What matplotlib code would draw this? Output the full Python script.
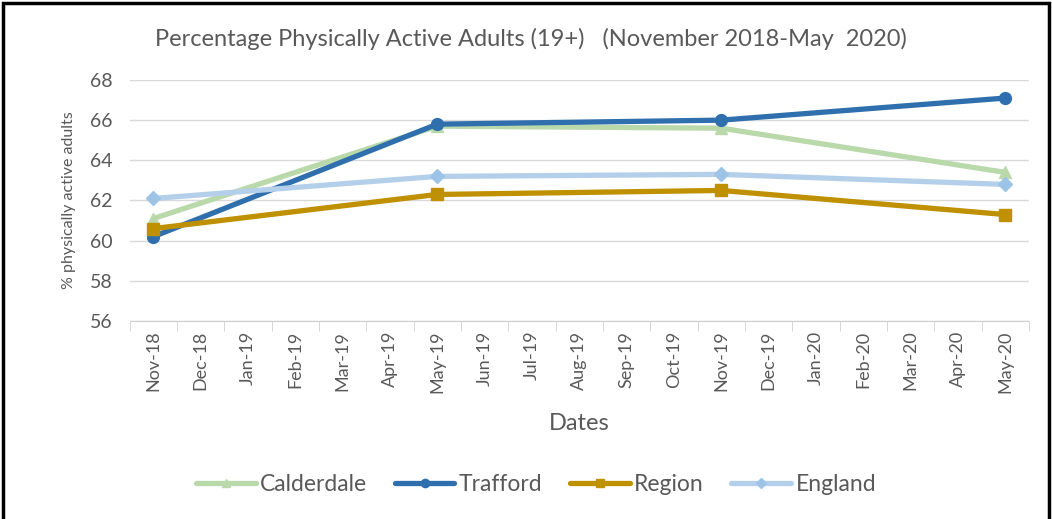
import numpy as np
import matplotlib
matplotlib.use("Agg")
import matplotlib.pyplot as plt
from matplotlib.patches import Rectangle

plt.rcParams['font.family'] = ['Lato', 'DejaVu Sans']

# data
months = ['Nov-18', 'Dec-18', 'Jan-19', 'Feb-19', 'Mar-19', 'Apr-19', 'May-19',
          'Jun-19', 'Jul-19', 'Aug-19', 'Sep-19', 'Oct-19', 'Nov-19', 'Dec-19',
          'Jan-20', 'Feb-20', 'Mar-20', 'Apr-20', 'May-20']
survey_months = ['Nov-18', 'May-19', 'Nov-19', 'May-20']
calderdale = [61.1, 65.7, 65.6, 63.4]
trafford = [60.2, 65.8, 66.0, 67.1]
region = [60.6, 62.3, 62.5, 61.3]
england = [62.1, 63.2, 63.3, 62.8]

series = [
    ('Calderdale', calderdale, '#b9d9ab', '#b9d9ab', '^', 9),
    ('Trafford', trafford, '#2f6fad', '#2f6fad', 'o', 8.5),
    ('Region', region, '#bf9000', '#bf9000', 's', 8.5),
    ('England', england, '#b4cfea', '#9dc3e6', 'D', 7),
]

fig = plt.figure(figsize=(10.52, 5.19), dpi=100)
ax = fig.add_axes([0.1232, 0.3815, 0.8548, 0.4644])

xpos = [months.index(m) for m in survey_months]
for name, vals, col, mcol, mk, ms in series:
    ax.plot(xpos, vals, color=col, lw=3.8, marker=mk, ms=ms,
            mfc=mcol, mec=mcol, label=name, solid_capstyle='round')

ax.set_xlim(-0.5, len(months) - 0.5)
ax.set_ylim(56, 68)
ax.set_yticks(np.arange(56, 69, 2))
ax.set_xticks(range(len(months)))
ax.set_xticklabels(months, rotation=90, fontsize=13, color='#595959')
ax.set_xticks(np.arange(-0.5, len(months), 1), minor=True)
ax.tick_params(axis='x', which='major', length=0, pad=7)
ax.tick_params(axis='x', which='minor', length=7, color='#d0d0d0')
ax.tick_params(axis='y', length=0, labelsize=14, colors='#595959', pad=12)
ax.grid(axis='y', color='#d9d9d9', lw=1)
ax.set_axisbelow(True)
for s in ['top', 'right', 'left']:
    ax.spines[s].set_visible(False)
ax.spines['bottom'].set_color('#d0d0d0')

ax.set_ylabel('% physically active adults', fontsize=11.5, color='#595959', labelpad=10)
ax.set_xlabel('Dates', fontsize=17, color='#595959', labelpad=14)
fig.text(0.505, 0.924, 'Percentage Physically Active Adults (19+)   (November 2018-May  2020)',
         ha='center', va='center', fontsize=17, color='#595959')

leg = ax.legend(loc='center', bbox_to_anchor=(0.452, -0.68), ncol=4, frameon=False,
                fontsize=16.5, handlelength=2.6, handletextpad=0.2, columnspacing=1.2,
                labelcolor='#595959', markerscale=0.7)

fig.patches.append(Rectangle((0.003, -0.01), 0.994, 1.004, transform=fig.transFigure,
                             fill=False, ec='black', lw=2.5))

fig.savefig('out.png', dpi=100)
